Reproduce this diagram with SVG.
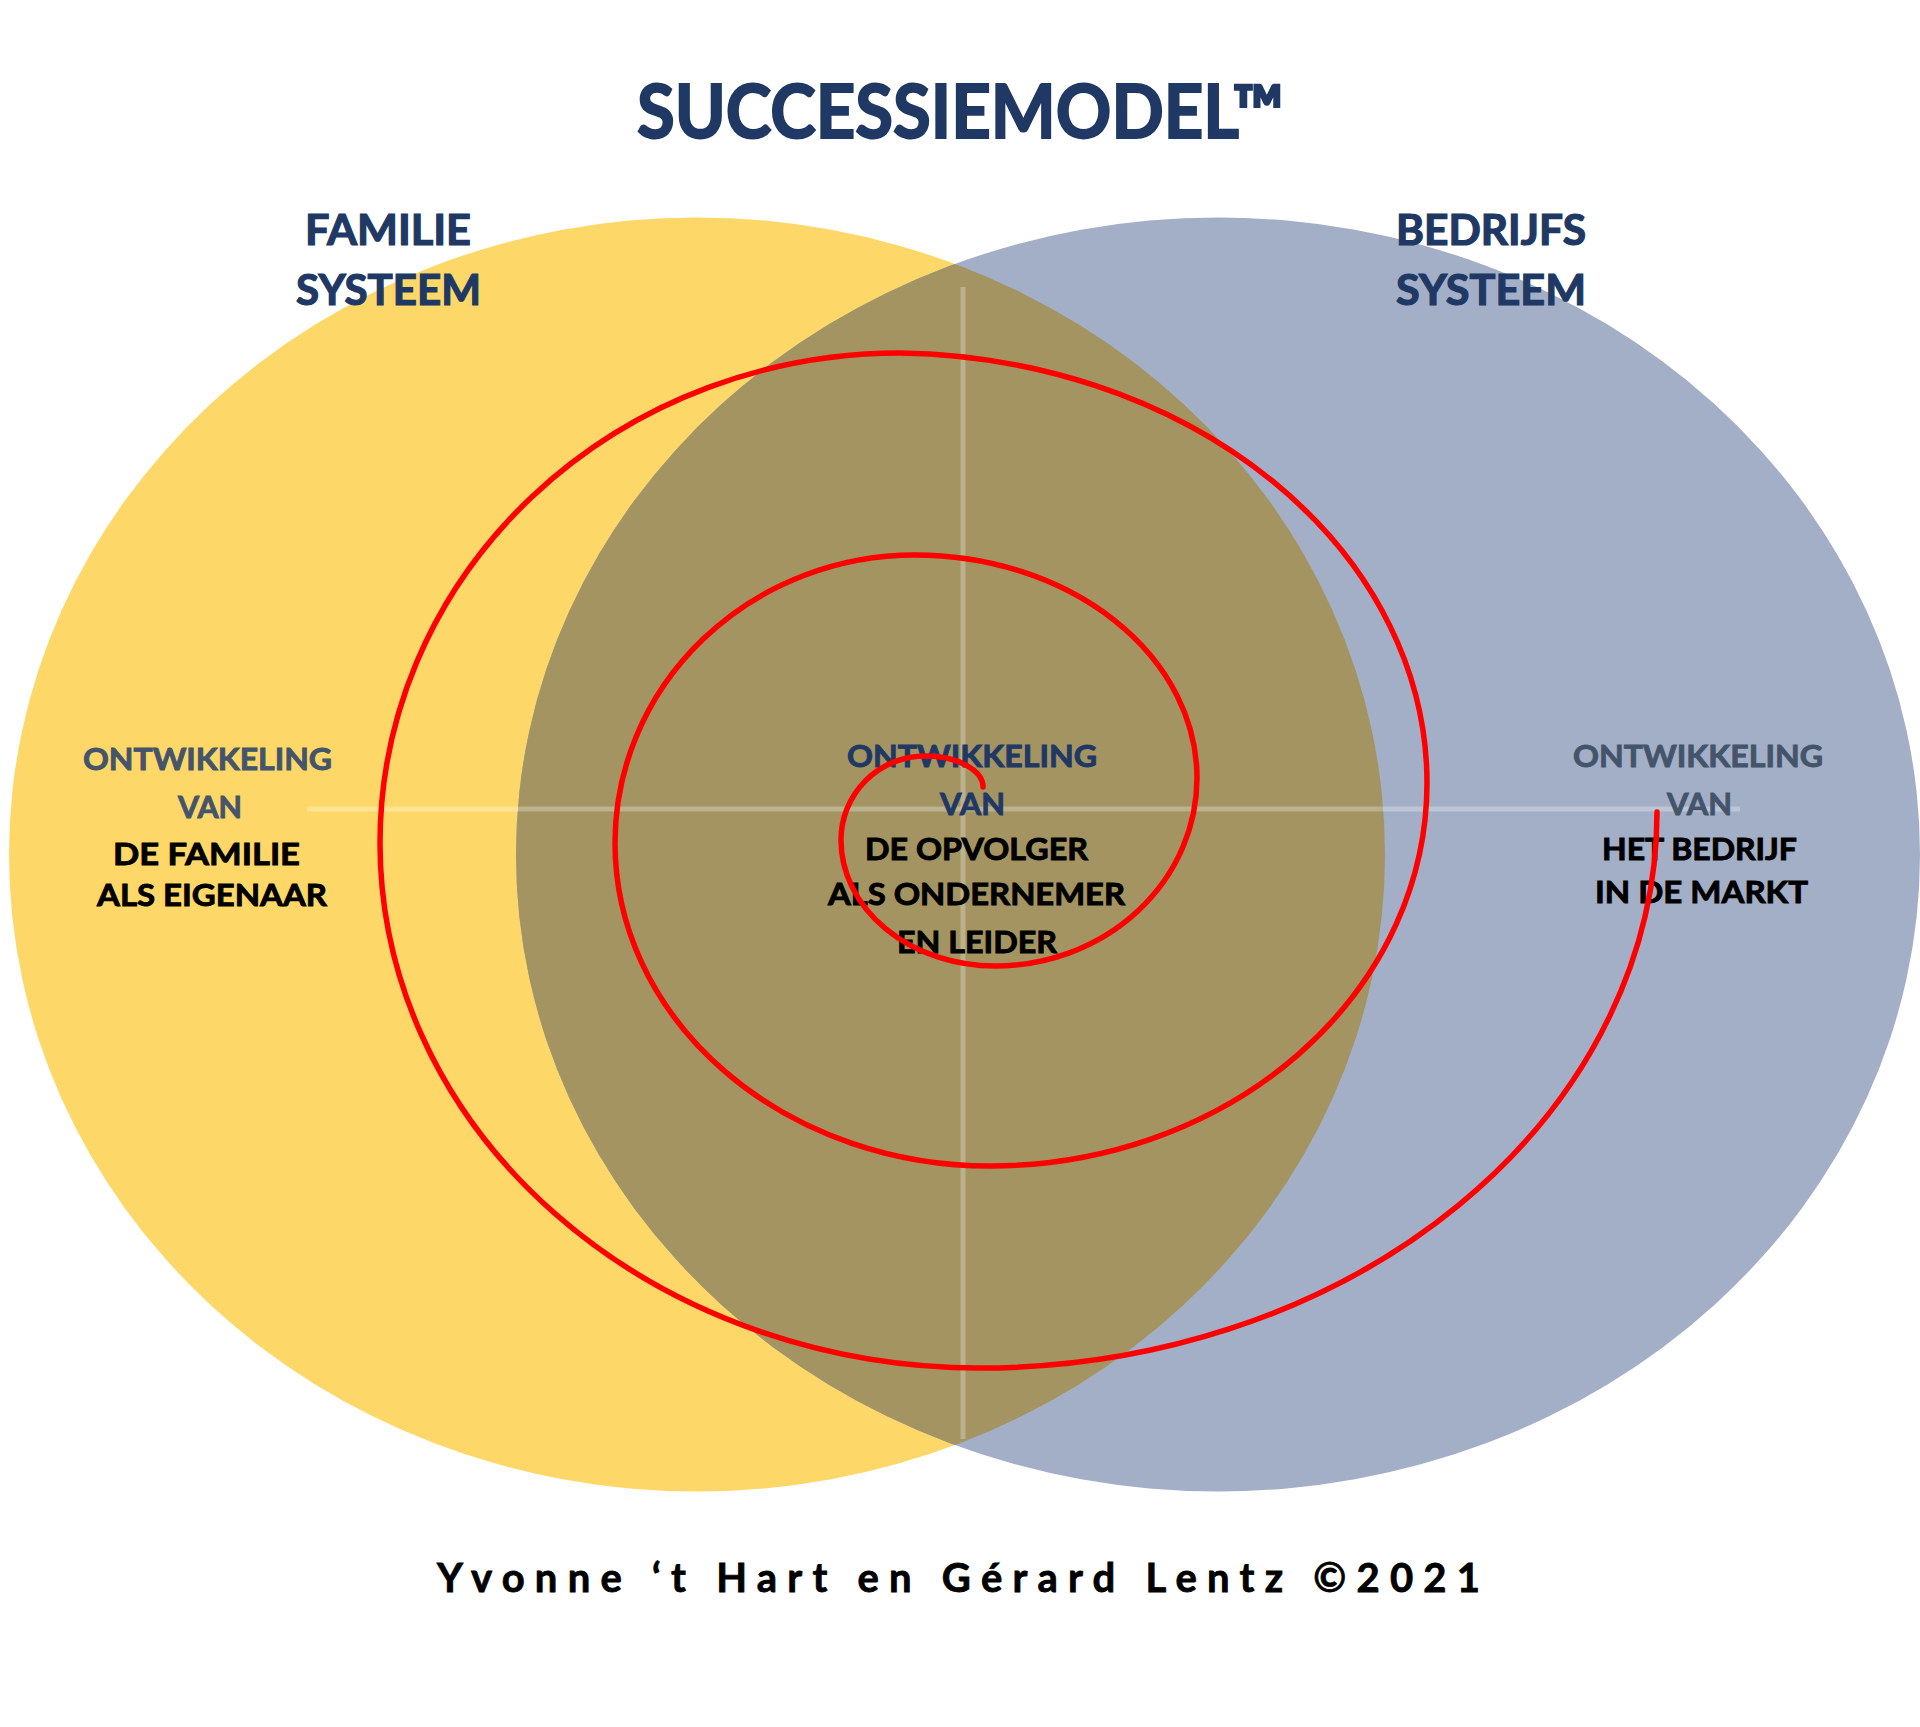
<svg xmlns="http://www.w3.org/2000/svg" width="1920" height="1727" viewBox="0 0 1920 1727">
<style>
.t{font-family:Lato,"Open Sans","Liberation Sans",sans-serif;font-weight:700;text-anchor:middle;paint-order:stroke}
.title{font-size:74px;fill:#203864;stroke:#203864;stroke-width:2}
.hdr{font-size:42px;fill:#203864;stroke:#203864;stroke-width:1.2}
.lbl{font-size:31px;stroke-width:0.9}
.sub{fill:#44546A;stroke:#44546A}
.subc{fill:#203864;stroke:#203864}
.blk{fill:#000;stroke:#000}
.foot{font-size:40px;fill:#000;stroke:#000;stroke-width:0.8;text-anchor:start}
.axis{stroke:#ffffff;stroke-opacity:0.28;stroke-width:5;fill:none}
.spiral{stroke:#FF0000;stroke-width:5.5;fill:none;stroke-linecap:round}
</style>
<defs>
<clipPath id="clipLeft"><ellipse cx="697" cy="854.5" rx="688" ry="637"/></clipPath>
</defs>
<rect width="1920" height="1727" fill="#ffffff"/>
<text class="t title" x="960.5" y="138" textLength="647" lengthAdjust="spacingAndGlyphs">SUCCESSIEMODEL™</text>
<g id="familie-systeem">
<ellipse cx="697" cy="854.5" rx="688" ry="637" fill="#FDD868"/>
</g>
<g id="bedrijfs-systeem">
<ellipse cx="1218" cy="854.5" rx="702" ry="637" fill="#A3AFC7"/>
</g>
<g id="overlap">
<ellipse cx="1218" cy="854.5" rx="702" ry="637" fill="#A39462" clip-path="url(#clipLeft)"/>
</g>
<g id="header-familie">
<text class="t hdr" x="388" y="245" textLength="166" lengthAdjust="spacingAndGlyphs">FAMILIE</text>
<text class="t hdr" x="388.5" y="305" textLength="185" lengthAdjust="spacingAndGlyphs">SYSTEEM</text>
</g>
<g id="header-bedrijfs">
<text class="t hdr" x="1491" y="245" textLength="190" lengthAdjust="spacingAndGlyphs">BEDRIJFS</text>
<text class="t hdr" x="1491" y="305" textLength="190" lengthAdjust="spacingAndGlyphs">SYSTEEM</text>
</g>
<g id="axes">
<line class="axis" x1="963" y1="287" x2="963" y2="1439"/>
<line class="axis" x1="307" y1="809" x2="1740" y2="809"/>
</g>
<g id="label-familie">
<text class="t lbl sub" x="207.5" y="770" textLength="249" lengthAdjust="spacingAndGlyphs">ONTWIKKELING</text>
<text class="t lbl sub" x="210" y="818" textLength="64" lengthAdjust="spacingAndGlyphs">VAN</text>
<text class="t lbl blk" x="206.5" y="865" textLength="187" lengthAdjust="spacingAndGlyphs">DE FAMILIE</text>
<text class="t lbl blk" x="212" y="906" textLength="230" lengthAdjust="spacingAndGlyphs">ALS EIGENAAR</text>
</g>
<g id="label-opvolger">
<text class="t lbl subc" x="972" y="767" textLength="250" lengthAdjust="spacingAndGlyphs">ONTWIKKELING</text>
<text class="t lbl subc" x="972.5" y="815" textLength="65" lengthAdjust="spacingAndGlyphs">VAN</text>
<text class="t lbl blk" x="976.5" y="860" textLength="223" lengthAdjust="spacingAndGlyphs">DE OPVOLGER</text>
<text class="t lbl blk" x="976.5" y="905" textLength="297" lengthAdjust="spacingAndGlyphs">ALS ONDERNEMER</text>
<text class="t lbl blk" x="977" y="953" textLength="160" lengthAdjust="spacingAndGlyphs">EN LEIDER</text>
</g>
<g id="label-bedrijf">
<text class="t lbl sub" x="1698" y="767" textLength="250" lengthAdjust="spacingAndGlyphs">ONTWIKKELING</text>
<text class="t lbl sub" x="1699.5" y="815" textLength="65" lengthAdjust="spacingAndGlyphs">VAN</text>
<text class="t lbl blk" x="1699.5" y="860" textLength="195" lengthAdjust="spacingAndGlyphs">HET BEDRIJF</text>
<text class="t lbl blk" x="1701.5" y="903" textLength="213" lengthAdjust="spacingAndGlyphs">IN DE MARKT</text>
</g>
<g id="connectors">
<path class="spiral" d="M 983 787 A 58 31 0 0 0 925 756 A 84 84 0 0 0 841 840 A 154 126 0 0 0 995 966 A 202 188 0 0 0 1197 778 A 282 223 0 0 0 915 555 A 300 288 0 0 0 615 843 A 375 323 0 0 0 990 1166 A 437 383 0 0 0 1427 783 A 537 430 0 0 0 900 353 A 520 490 0 0 0 380 843 A 600 525 0 0 0 980 1368 A 677 556 0 0 0 1657 812"/>
</g>
<text class="t foot" x="437" y="1592" textLength="1043" lengthAdjust="spacing">Yvonne ‘t Hart en Gérard Lentz ©2021</text>
</svg>
